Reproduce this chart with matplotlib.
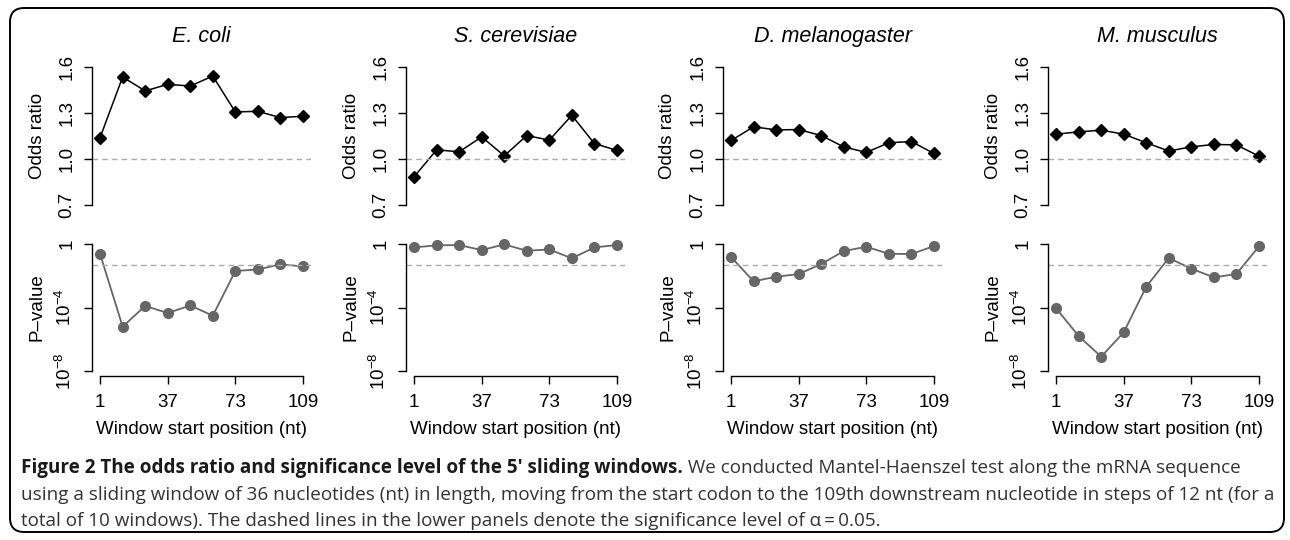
import matplotlib
matplotlib.use("Agg")
import matplotlib.pyplot as plt
from matplotlib.patches import FancyBboxPatch
import numpy as np

plt.rcParams['font.family'] = ['Liberation Sans', 'DejaVu Sans']
plt.rcParams['mathtext.fontset'] = 'custom'
plt.rcParams['mathtext.rm'] = 'Liberation Sans'
plt.rcParams['mathtext.it'] = 'Liberation Sans:italic'

# ---------------- data ----------------
species = ["E. coli", "S. cerevisiae", "D. melanogaster", "M. musculus"]
window_start = [1, 13, 25, 37, 49, 61, 73, 85, 97, 109]
x_ticks = [1, 37, 73, 109]

odds_ecoli = [1.14, 1.535, 1.444, 1.487, 1.476, 1.541, 1.307, 1.311, 1.270, 1.279]
odds_scer = [0.884, 1.060, 1.047, 1.144, 1.021, 1.153, 1.123, 1.285, 1.101, 1.056]
odds_dmel = [1.121, 1.210, 1.190, 1.192, 1.153, 1.079, 1.043, 1.106, 1.114, 1.036]
odds_mmus = [1.162, 1.177, 1.188, 1.162, 1.106, 1.052, 1.079, 1.095, 1.092, 1.019]

# log10 p-values
logp_ecoli = [-0.63, -5.21, -3.90, -4.35, -3.87, -4.52, -1.70, -1.60, -1.28, -1.41]
logp_scer = [-0.21, -0.08, -0.06, -0.38, -0.02, -0.42, -0.34, -0.90, -0.21, -0.06]
logp_dmel = [-0.82, -2.35, -2.06, -1.89, -1.26, -0.44, -0.17, -0.61, -0.63, -0.13]
logp_mmus = [-4.05, -5.80, -7.10, -5.57, -2.69, -0.88, -1.55, -2.10, -1.89, -0.15]

odds_all = [odds_ecoli, odds_scer, odds_dmel, odds_mmus]
logp_all = [logp_ecoli, logp_scer, logp_dmel, logp_mmus]

odds_ticks = [0.7, 1.0, 1.3, 1.6]
odds_ticklabels = ["0.7", "1.0", "1.3", "1.6"]
p_ticks = [1e-8, 1e-4, 1]
p_ticklabels = [r"$10^{-8}$", r"$10^{-4}$", "1"]
alpha = 0.05

caption_bold = "Figure 2 The odds ratio and significance level of the 5\u2032 sliding windows."
caption_rest1 = " We conducted Mantel-Haenszel test along the mRNA sequence"
caption_line2 = ("using a sliding window of 36 nucleotides (nt) in length, moving from the start codon "
                 "to the 109th downstream nucleotide in steps of 12 nt (for a")
caption_line3 = ("total of 10 windows). The dashed lines in the lower panels denote the significance "
                 "level of \u03b1\u2009=\u20090.05.")

# ---------------- layout ----------------
W, H = 1290, 540
fig = plt.figure(figsize=(W / 100, H / 100), dpi=100)

lefts_px = [92, 406, 723, 1048]
width_px = 219
top_ax = (61.5, 210.5)
bot_ax = (239, 376)

xpad = 0.04 * (109 - 1)
FS = 13.5
gray = "#666666"
dash_gray = "#aaaaaa"


def frac_rect(left, ytop, ybot):
    return [left / W, 1 - ybot / H, width_px / W, (ybot - ytop) / H]


for i, name in enumerate(species):
    L = lefts_px[i]
    # top panel: odds ratio
    ax = fig.add_axes(frac_rect(L, *top_ax))
    ax.plot(window_start, odds_all[i], color="black", lw=1.1, marker="D", ms=6,
            markerfacecolor="black", markeredgecolor="black")
    ax.axhline(1.0, color=dash_gray, lw=1.0, ls=(0, (4, 3)))
    ax.set_xlim(1 - xpad, 109 + xpad)
    ax.set_ylim(0.7 - 0.036, 1.6 + 0.036)
    for s in ["top", "right", "bottom"]:
        ax.spines[s].set_visible(False)
    ax.spines["left"].set_bounds(0.7, 1.6)
    ax.spines["left"].set_linewidth(1.0)
    ax.set_xticks([])
    ax.set_yticks(odds_ticks)
    ax.set_yticklabels(odds_ticklabels, rotation=90, va="center")
    ax.tick_params(axis="y", length=6, width=1.0, pad=6, labelsize=FS)
    ax.set_facecolor("none")
    ax.set_title(name, style="italic", fontsize=15.5, pad=14)
    fig.text((L - 55) / W, 1 - ((top_ax[0] + top_ax[1]) / 2) / H, "Odds ratio",
             rotation=90, ha="center", va="center", fontsize=FS)

    # bottom panel: p-value
    bx = fig.add_axes(frac_rect(L, *bot_ax))
    bx.plot(window_start, [10 ** v for v in logp_all[i]], color=gray, lw=1.3, marker="o",
            ms=7, markerfacecolor=gray, markeredgecolor=gray)
    bx.axhline(alpha, color=dash_gray, lw=1.0, ls=(0, (4, 3)))
    bx.set_yscale("log")
    bx.set_xlim(1 - xpad, 109 + xpad)
    bx.set_ylim(10 ** (-8.32), 10 ** 0.32)
    for s in ["top", "right"]:
        bx.spines[s].set_visible(False)
    bx.spines["left"].set_bounds(1e-8, 1)
    bx.spines["bottom"].set_bounds(1, 109)
    bx.spines["left"].set_linewidth(1.0)
    bx.spines["bottom"].set_linewidth(1.0)
    bx.set_yticks(p_ticks)
    bx.set_yticklabels(p_ticklabels, rotation=90, va="center")
    bx.yaxis.set_minor_locator(matplotlib.ticker.NullLocator())
    bx.set_xticks(x_ticks)
    bx.set_xticklabels([str(t) for t in x_ticks])
    bx.tick_params(axis="y", length=6, width=1.0, pad=6, labelsize=FS)
    bx.tick_params(axis="x", length=6, width=1.0, pad=7, labelsize=FS)
    bx.set_facecolor("none")
    fig.text((L - 55) / W, 1 - ((bot_ax[0] + bot_ax[1]) / 2) / H, "P\u2013value",
             rotation=90, ha="center", va="center", fontsize=FS)
    fig.text((L + width_px / 2) / W, 1 - 430 / H, "Window start position (nt)",
             ha="center", va="center", fontsize=FS)

# border
border = FancyBboxPatch((10 / W, 8 / H), 1274 / W, 524 / H,
                        boxstyle="round,pad=0,rounding_size=0.011",
                        transform=fig.transFigure, fill=False, ec="black", lw=1.4,
                        mutation_aspect=W / H)
fig.add_artist(border)

cap_family = ["Open Sans", "DejaVu Sans"]
CFS = 13.55
t1 = fig.text(21 / W, 1 - 468 / H, caption_bold, fontsize=CFS, fontweight="bold",
              family=cap_family, ha="left", va="center", color="#1a1a1a")
fig.add_artist(matplotlib.text.Annotation(caption_rest1, xy=(1, 0.5), xycoords=t1,
                                          fontsize=CFS, family=cap_family, color="#333333",
                                          ha="left", va="center"))
fig.text(21 / W, 1 - 495 / H, caption_line2, fontsize=CFS, family=cap_family,
         ha="left", va="center", color="#333333")
fig.text(21 / W, 1 - 521 / H, caption_line3, fontsize=CFS, family=cap_family,
         ha="left", va="center", color="#333333")

fig.savefig("out.png", dpi=100)
